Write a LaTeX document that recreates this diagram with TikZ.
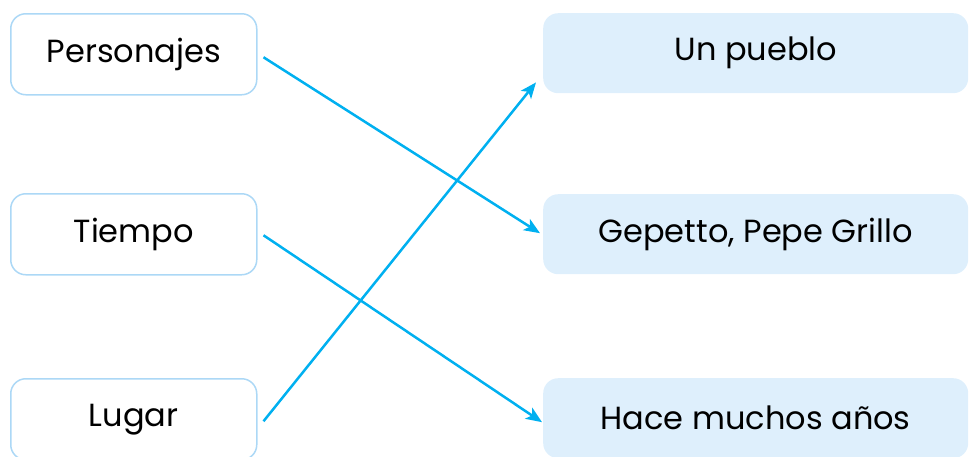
\documentclass[tikz,border=0pt]{standalone}
\usepackage{fontspec}
\setmainfont{Poppins}
\usetikzlibrary{calc,arrows.meta}
\definecolor{lborder}{RGB}{172,216,246}
\definecolor{rfill}{RGB}{222,239,252}
\definecolor{arrowc}{RGB}{0,176,240}
\begin{document}
\begin{tikzpicture}[x=1pt,y=-1pt,
  leftbox/.style={draw=lborder,line width=1.5pt,fill=white,rounded corners=15pt,minimum width=246pt,minimum height=81pt,inner sep=0pt,anchor=north west,font=\fontsize{32}{38}\selectfont},
  rightbox/.style={fill=rfill,rounded corners=15pt,minimum width=425pt,minimum height=80pt,inner sep=0pt,anchor=north west,font=\fontsize{32}{38}\selectfont},
  conn/.style={draw=arrowc,line width=2.5pt,-{Stealth[length=16pt,width=13pt,inset=4pt]}}]
\useasboundingbox (0,0) rectangle (969,456);
\begin{scope}
\clip (0,0) rectangle (969,456);
\node[leftbox] (pers) at (10,13) {Personajes};
\node[leftbox] (tiem) at (10,193) {Tiempo};
\node[leftbox] (lug) at (10,378) {Lugar};
\node[rightbox] (pue) at (543,13) {Un pueblo};
\node[rightbox] (gep) at (543,194) {Gepetto, Pepe Grillo};
\node[rightbox] (hace) at (543,378) {Hace muchos años};
\end{scope}
\draw[conn] ($(pers.east)+(6,3)$) -- ($(gep.west)+(-3,-1)$);
\draw[conn] ($(tiem.east)+(6,1)$) -- ($(hace.west)+(-1,4)$);
\draw[conn] ($(lug.east)+(6,2)$) -- ($(pue.south west)+(-7,-11)$);
\end{tikzpicture}
\end{document}
